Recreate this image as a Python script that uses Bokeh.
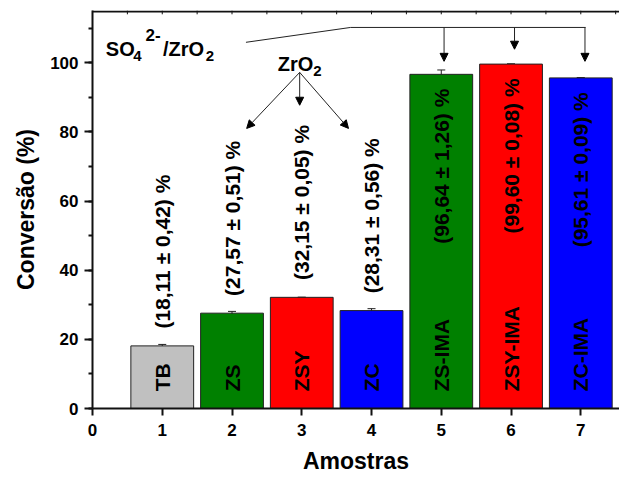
import numpy as np
from bokeh.plotting import figure
from bokeh.models import (ColumnDataSource, Range1d, LinearAxis, FixedTicker,
                          SingleIntervalTicker, Whisker, TeeHead, Label, Arrow, NormalHead, Title)
from bokeh.core.properties import value
from bokeh.embed import file_html
from bokeh.resources import INLINE

# ---- data ----
positions = [1, 2, 3, 4, 5, 6, 7]
samples = ["TB", "ZS", "ZSY", "ZC", "ZS-IMA", "ZSY-IMA", "ZC-IMA"]
conversion = [18.11, 27.57, 32.15, 28.31, 96.64, 99.60, 95.61]
errors = [0.42, 0.51, 0.05, 0.56, 1.26, 0.08, 0.09]
colors = ["#C0C0C0", "#008000", "#FF0000", "#0000FF", "#008000", "#FF0000", "#0000FF"]
x_ticks = [0, 1, 2, 3, 4, 5, 6, 7]
y_label = "Conversão (%)"
x_label = "Amostras"

FONT = "Liberation Sans"
X_END, Y_END = 7.555, 115.1

val_text = [("(%.2f ± %.2f) %%" % (v, e)).replace(".", ",") for v, e in zip(conversion, errors)]
val_y = [v + 5 if v < 50 else v - 49 for v in conversion]

src = ColumnDataSource(dict(
    x=positions, top=conversion, color=colors, name=samples,
    upper=[v + e for v, e in zip(conversion, errors)],
    lower=[v - e for v, e in zip(conversion, errors)],
    vtext=val_text, vy=val_y, ny=[5] * len(positions),
))

p = figure(width=619, height=481, output_backend="svg", toolbar_location=None,
           x_range=Range1d(0, X_END), y_range=Range1d(0, Y_END),
           x_axis_type=None, y_axis_type=None,
           min_border_left=92, min_border_right=0, min_border_top=10, min_border_bottom=73)
p.outline_line_color = None
p.xgrid.visible = False
p.ygrid.visible = False
p.background_fill_color = "white"
p.border_fill_color = "white"

# axes
xax = LinearAxis(ticker=FixedTicker(ticks=x_ticks))
yax = LinearAxis(ticker=SingleIntervalTicker(interval=20, num_minor_ticks=2))
for ax in (xax, yax):
    ax.axis_line_width = 2
    ax.axis_line_color = "#111111"
    ax.major_tick_line_width = 2
    ax.minor_tick_line_width = 2
    ax.major_tick_line_color = "#111111"
    ax.minor_tick_line_color = "#111111"
    ax.major_label_text_font = FONT
    ax.major_label_text_font_style = "bold"
    ax.major_label_text_font_size = "17px"
    ax.major_label_text_color = "black"
xax.major_tick_in = 0
xax.major_tick_out = 7
xax.minor_tick_out = 0
xax.major_label_standoff = 8
yax.major_tick_in = 0
yax.major_tick_out = 8
yax.minor_tick_in = 0
yax.minor_tick_out = 4
yax.major_label_standoff = 6
p.add_layout(xax, "below")
p.add_layout(yax, "left")

# axis titles
p.add_layout(Title(text=x_label, align="center", offset=5, standoff=14,
                   text_font=FONT, text_font_style="bold", text_font_size="23px",
                   text_color="black"), "below")
p.add_layout(Title(text=y_label, align="center", offset=13, standoff=17,
                   text_font=FONT, text_font_style="bold", text_font_size="23px",
                   text_color="black"), "left")

# top frame line with inward ticks
top_ticks = list(np.arange(0, 8, 0.5))
p.line([0, X_END], [Y_END - 0.3, Y_END - 0.3], line_color="#111111", line_width=2)
p.segment(x0=top_ticks, y0=[Y_END] * len(top_ticks), x1=top_ticks,
          y1=[Y_END - 1.1] * len(top_ticks), line_color="#111111", line_width=1)

# bars
p.vbar(x="x", top="top", width=0.9, bottom=0, source=src, fill_color="color",
       line_color="#222222", line_width=1)

# error bars
p.add_layout(Whisker(base="x", upper="upper", lower="lower", source=src,
                     line_color="#222222", line_width=1,
                     upper_head=TeeHead(size=8, line_color="#222222", line_width=1),
                     lower_head=TeeHead(size=8, line_color="#222222", line_width=1)))

# sample names inside bars
p.text(x="x", y="ny", text="name", source=src, angle=np.pi / 2,
       text_font=value(FONT), text_font_style="bold", text_font_size="21px",
       text_align="left", text_baseline="middle", text_color="black")

# values
p.text(x="x", y="vy", text="vtext", source=src, angle=np.pi / 2,
       text_font=value(FONT), text_font_style="bold", text_font_size="21px",
       text_align="left", text_baseline="middle", text_color="black")

# annotation texts
def lab(x, y, t, size):
    p.add_layout(Label(x=x, y=y, text=t, text_font=FONT, text_font_style="bold",
                       text_font_size=size, text_align="left",
                       text_baseline="alphabetic", text_color="black"))

lab(0.191, 104.1, "SO", "20px")
lab(0.585, 101.8, "4", "15px")
lab(0.760, 107.9, "2-", "17px")
lab(1.010, 104.1, "/ZrO", "20px")
lab(1.625, 101.9, "2", "15px")
lab(2.656, 99.7, "ZrO", "20px")
lab(3.165, 97.5, "2", "15px")

# SO4/ZrO2 bracket line and arrows
p.line([2.20, 3.70, 7.07], [105.9, 110.2, 110.2], line_color="#222222", line_width=1)
for ax_x, tip in [(5.04, 100.4), (6.05, 103.9), (7.06, 100.4)]:
    p.add_layout(Arrow(x_start=ax_x, y_start=110.2, x_end=ax_x, y_end=tip,
                       line_color="#222222", line_width=1,
                       end=NormalHead(size=8, fill_color="black", line_color="black")))

# ZrO2 arrows
for ex, ey in [(2.21, 81.0), (2.97, 87.7), (3.67, 81.0)]:
    p.add_layout(Arrow(x_start=2.97, y_start=97.2, x_end=ex, y_end=ey,
                       line_color="#222222", line_width=1,
                       end=NormalHead(size=8, fill_color="black", line_color="black")))

open("out.html", "w").write(file_html(p, INLINE))
